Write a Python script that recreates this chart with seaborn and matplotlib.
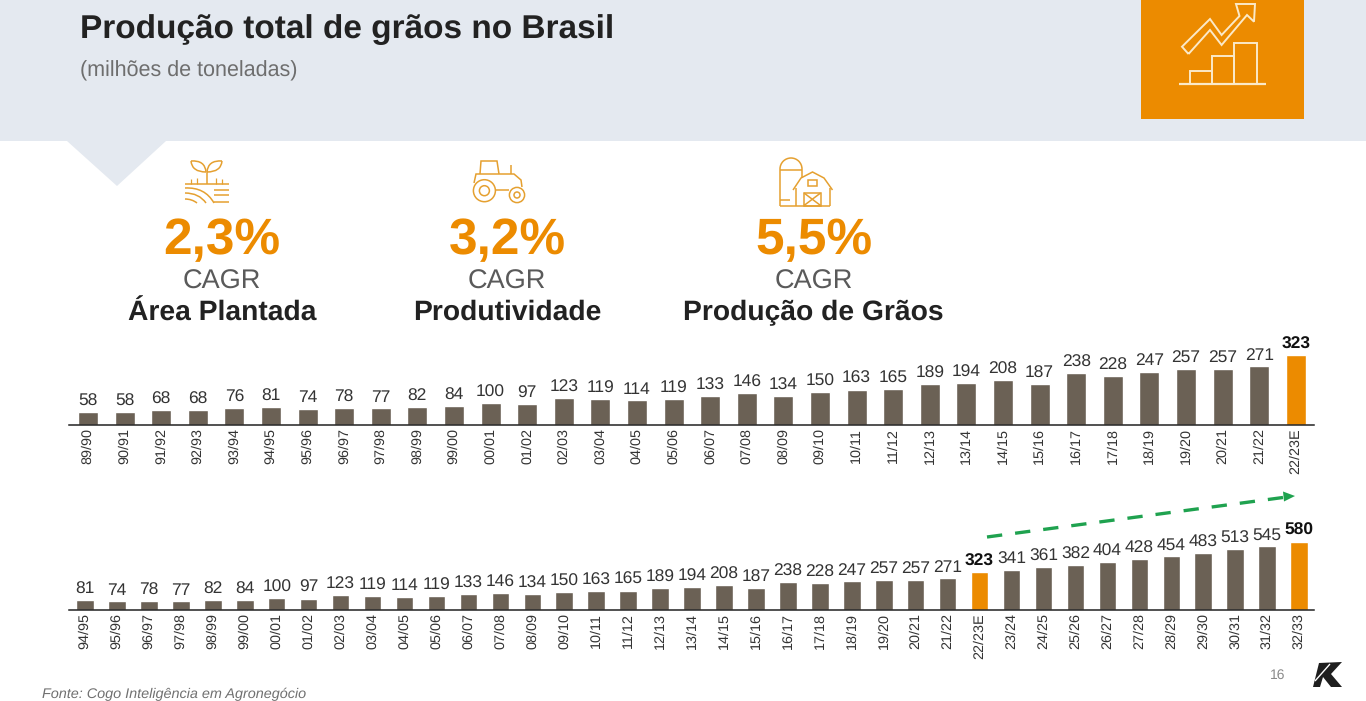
import matplotlib
matplotlib.use("Agg")
import matplotlib.pyplot as plt
import seaborn as sns
import pandas as pd
from matplotlib.patches import Polygon, Rectangle, Circle, PathPatch, Arc
from matplotlib.path import Path

W, H = 1366, 701
sns.set_theme(style="white")
plt.rcParams['font.family'] = ['Liberation Sans', 'DejaVu Sans']
plt.rcParams['text.hinting'] = 'no_hinting'

# ---- data ----
top_labels = ["89/90","90/91","91/92","92/93","93/94","94/95","95/96","96/97","97/98","98/99","99/00",
              "00/01","01/02","02/03","03/04","04/05","05/06","06/07","07/08","08/09","09/10","10/11",
              "11/12","12/13","13/14","14/15","15/16","16/17","17/18","18/19","19/20","20/21","21/22","22/23E"]
top_values = [58,58,68,68,76,81,74,78,77,82,84,100,97,123,119,114,119,133,146,134,150,163,165,189,194,
              208,187,238,228,247,257,257,271,323]
top_highlight = ["22/23E"]

bottom_labels = ["94/95","95/96","96/97","97/98","98/99","99/00","00/01","01/02","02/03","03/04","04/05",
                 "05/06","06/07","07/08","08/09","09/10","10/11","11/12","12/13","13/14","14/15","15/16",
                 "16/17","17/18","18/19","19/20","20/21","21/22","22/23E","23/24","24/25","25/26","26/27",
                 "27/28","28/29","29/30","30/31","31/32","32/33"]
bottom_values = [81,74,78,77,82,84,100,97,123,119,114,119,133,146,134,150,163,165,189,194,208,187,238,228,
                 247,257,257,271,323,341,361,382,404,428,454,483,513,545,580]
bottom_highlight = ["22/23E","32/33"]

kpi_values = ["2,3%","3,2%","5,5%"]
kpi_names = ["Área Plantada","Produtividade","Produção de Grãos"]

ORANGE = "#EC8B00"
BROWN = "#6B6155"
PANEL = "#E4E9F0"
DARK = "#222222"
ICON = "#E5A030"

fig = plt.figure(figsize=(W/100, H/100), dpi=100, facecolor="white")

# overlay in pixel coordinates for the slide furniture
ov = fig.add_axes([0, 0, 1, 1], zorder=1)
ov.set_xlim(0, W); ov.set_ylim(H, 0); ov.axis("off")

ov.add_patch(Rectangle((0, 0), W, 141, fc=PANEL, ec="none"))
ov.add_patch(Polygon([(67,141),(166,141),(117,186)], fc=PANEL, ec="none"))
ov.add_patch(Rectangle((1140.5, 0), 163.5, 119, fc=ORANGE, ec="none"))

def line(pts, c, lw=1.1):
    xs, ys = zip(*pts)
    ov.plot(xs, ys, color=c, lw=lw, solid_joinstyle="miter", solid_capstyle="butt")

def curve(p0, c0, p1, c, lw=1.1):
    ov.add_patch(PathPatch(Path([p0, c0, p1], [Path.MOVETO, Path.CURVE3, Path.CURVE3]),
                           fc="none", ec=c, lw=lw))

# chart icon (white on orange)
wh = "#FBE9C8"
line([(1188.5,54),(1182,46.7),(1210,19),(1221.6,35),(1239.5,16),(1236,4),(1255,4),(1254,21.7),(1247,15),
      (1221.6,45),(1210,30),(1188.5,54)], wh, 1.4)
line([(1190,83),(1190,70.7),(1212,70.7),(1212,83)], wh, 1.4)
line([(1212,83),(1212,55.7),(1234,55.7),(1234,83)], wh, 1.4)
line([(1234,83),(1234,42.7),(1256.5,42.7),(1256.5,83)], wh, 1.4)
line([(1179,84),(1266,84)], wh, 1.6)

# plant icon
curve((206,172),(192,172),(191,161),ICON); curve((191,161),(205,160),(206,172),ICON)
curve((207,172),(221,172),(222,161),ICON); curve((222,161),(208,160),(207,172),ICON)
line([(206.5,172),(206.5,184)], ICON)
line([(185,184),(229,184)], ICON)
for x, y0 in [(191,179),(197,178),(216,178),(222,179)]:
    line([(x,y0),(x,184)], ICON, 0.9)
for y in (190,195,202):
    line([(214,y),(229,y)], ICON)
curve((185,188),(205,187),(214,203),ICON)
curve((185,193),(199,193),(206,203),ICON)
curve((185,199),(192,199),(197,203),ICON)

# tractor icon
for (cx, cy, r) in [(484.4,190.7,11),(484.4,190.7,5),(517,195,7.6),(517,195,3)]:
    ov.add_patch(Circle((cx,cy), r, fc="none", ec=ICON, lw=1.1))
line([(480,174),(481,161),(497,161),(499,174)], ICON)
line([(474,183),(476,174),(514,174),(521,180),(522,187)], ICON)
line([(496,190),(509,190)], ICON)
line([(511,174),(511,165)], ICON)

# barn icon
line([(780,206),(780,169)], ICON)
ov.add_patch(Arc((791,169), 22, 22, theta1=180, theta2=360, ec=ICON, lw=1.1))
line([(802,169),(802,178)], ICON)
line([(780,170),(802,170)], ICON)
line([(780,206),(830,206)], ICON)
line([(780,200),(790,200)], ICON)
line([(793,190),(801,178),(812.5,172),(824,178),(832.5,190)], ICON)
line([(795.6,188),(795.6,206)], ICON)
line([(829.6,188),(829.6,206)], ICON)
ov.add_patch(Rectangle((808,180), 9, 6, fc="none", ec=ICON, lw=1.1))
ov.add_patch(Rectangle((804,193), 16.6, 12.5, fc="none", ec=ICON, lw=1.1))
line([(804,193),(820.6,205.5)], ICON)
line([(820.6,193),(804,205.5)], ICON)

# titles
ov.text(80, 38, "Produção total de grãos no Brasil", fontsize=24, fontweight="bold", color=DARK, va="baseline", ha="left")
ov.text(80, 76, "(milhões de toneladas)", fontsize=15.5, color="#6E6E6E", va="baseline", ha="left")

# KPIs
for cx, val, name, dy in zip((222, 507, 813.5), kpi_values, kpi_names, (0.7, 0, 0)):
    ov.text(cx, 254, val, fontsize=37, fontweight="bold", color=ORANGE, ha="center", va="baseline")
    ov.text(cx, 289, "CAGR", fontsize=19.5, color="#5A5A5A", ha="center", va="baseline")
    ov.text(cx, 320 + dy, name, fontsize=20.3, fontweight="bold", color=DARK, ha="center", va="baseline")

# footer
ov.text(42, 698, "Fonte: Cogo Inteligência em Agronegócio", fontsize=10.4, style="italic", color="#707070", va="baseline", ha="left")
ov.text(1278, 675, "16", fontsize=10, color="#8A8A8A", va="center", ha="center")
ov.add_patch(Polygon([(1313,687),(1319,663),(1342,662),(1331,674),(1342,687),(1331,687),(1323,677),(1320,687)], fc="#1E1E1E", ec="none"))
line([(1315,681),(1330,664)], "white", 1.0)

# green trend arrow
ov.plot([987,1283], [537,497.5], color="#1FA24F", lw=2.4, dashes=(4.6,3.9), solid_capstyle="butt")
ov.add_patch(Polygon([(1295,496),(1283,491.5),(1284,501.5)], fc="#1FA24F", ec="none"))


def panel(labels, values, highlight, px_left, px_right, px_top, px_base, ymax, first_c, step):
    ax = fig.add_axes([px_left/W, 1-px_base/H, (px_right-px_left)/W, (px_base-px_top)/H], zorder=2)
    ax.patch.set_alpha(0)
    df = pd.DataFrame({"safra": labels, "producao": values})
    df["grupo"] = ["destaque" if s in highlight else "normal" for s in labels]
    sns.barplot(data=df, x="safra", y="producao", hue="grupo", order=labels, dodge=False,
                palette={"destaque": ORANGE, "normal": BROWN}, saturation=1, width=0.55,
                legend=False, ax=ax, errorbar=None)
    ax.set_xlim((px_left-first_c)/step, (px_right-first_c)/step)
    ax.set_ylim(0, ymax)
    ax.set_xlabel(""); ax.set_ylabel(""); ax.set_yticks([])
    ax.tick_params(axis="x", length=0, pad=2.5, labelsize=10.4, labelcolor="#333333", labelrotation=90)
    sns.despine(ax=ax, left=True)
    ax.spines["bottom"].set_color("#222222")
    ax.spines["bottom"].set_linewidth(1.1)
    for i, (s, v) in enumerate(zip(labels, values)):
        hl = s in highlight
        ax.annotate(str(v), (i, v), xytext=(0, 4.5), textcoords="offset points", ha="center", va="baseline",
                    fontsize=12.5, color="#111111" if hl else "#333333", fontweight="bold" if hl else "normal",
                    annotation_clip=False)
    return ax

panel(top_labels, top_values, top_highlight, 69, 1314, 340, 424.5, 84.5/0.2145, 88, 36.6)
panel(bottom_labels, bottom_values, bottom_highlight, 69, 1314, 500, 610, 110/0.118, 85, 31.95)

fig.savefig("out.png", dpi=100, facecolor="white")
